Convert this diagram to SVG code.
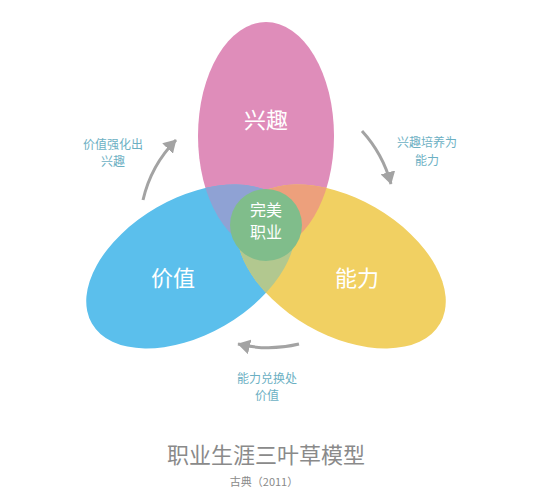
<svg xmlns="http://www.w3.org/2000/svg" width="547" height="500" viewBox="0 0 547 500">
<defs>
<style>
.lbl{font-family:"Noto Sans CJK SC","Noto Sans",sans-serif;fill:#ffffff;text-anchor:middle}
.big{font-size:22px}
.mid{font-size:16px}
.note{font-family:"Noto Sans CJK SC","Noto Sans",sans-serif;font-size:12px;fill:#6CB0C3;text-anchor:middle}
.title{font-family:"Noto Sans CJK SC","Noto Sans",sans-serif;fill:#8a8a8a;text-anchor:middle}
.arc{fill:none;stroke:#a3a3a3;stroke-width:3}
</style>
<marker id="ah" markerWidth="5" markerHeight="5" refX="4" refY="2.5" orient="auto" markerUnits="strokeWidth">
<path d="M0,0 L4.2,2.5 L0,5 Z" fill="#a3a3a3"/>
</marker>
<clipPath id="cBlue"><ellipse cx="266" cy="136" rx="68" ry="114" transform="rotate(-120 266 223)"/></clipPath>
<clipPath id="cYellow"><ellipse cx="266" cy="136" rx="68" ry="114" transform="rotate(120 266 223)"/></clipPath>
</defs>
<rect width="547" height="500" fill="#ffffff"/>
<g id="pink"><ellipse cx="266" cy="136" rx="68" ry="114" fill="#DF8DBA"/></g>
<g id="blue"><ellipse cx="266" cy="136" rx="68" ry="114" fill="#5BBFEC" transform="rotate(-120 266 223)"/></g>
<g id="yellow"><ellipse cx="266" cy="136" rx="68" ry="114" fill="#F1D062" transform="rotate(120 266 223)"/></g>
<g id="overlaps">
<ellipse cx="266" cy="136" rx="68" ry="114" fill="#8FA2D4" clip-path="url(#cBlue)"/>
<ellipse cx="266" cy="136" rx="68" ry="114" fill="#EDA07C" clip-path="url(#cYellow)"/>
<g clip-path="url(#cYellow)"><ellipse cx="266" cy="136" rx="68" ry="114" fill="#B2C88F" transform="rotate(-120 266 223)"/></g>
<g clip-path="url(#cYellow)"><ellipse cx="266" cy="136" rx="68" ry="114" fill="#A9AE9A" clip-path="url(#cBlue)"/></g>
</g>
<g id="center"><circle cx="266" cy="225" r="36" fill="#80BD8B"/>
<text class="lbl mid" x="266" y="216">完美</text>
<text class="lbl mid" x="266" y="238">职业</text></g>
<g id="labels">
<text class="lbl big" x="266" y="128">兴趣</text>
<text class="lbl big" x="173" y="286">价值</text>
<text class="lbl big" x="357" y="286">能力</text>
</g>
<g id="connectors">
<path class="arc" d="M143,200 A126,126 0 0 1 176,140" marker-end="url(#ah)"/>
<path class="arc" d="M362,131 A128,128 0 0 1 391,184" marker-end="url(#ah)"/>
<path class="arc" d="M299,344 A128,128 0 0 1 238,344" marker-end="url(#ah)"/>
</g>
<g id="notes">
<text class="note" x="113" y="149">价值强化出</text>
<text class="note" x="113" y="166">兴趣</text>
<text class="note" x="427" y="147">兴趣培养为</text>
<text class="note" x="427" y="165">能力</text>
<text class="note" x="267" y="383">能力兑换处</text>
<text class="note" x="267" y="400">价值</text>
</g>
<g id="title">
<text class="title" x="266" y="463" font-size="22">职业生涯三叶草模型</text>
<text class="title" x="264" y="486" font-size="11" fill="#777">古典（2011）</text>
</g>
</svg>
